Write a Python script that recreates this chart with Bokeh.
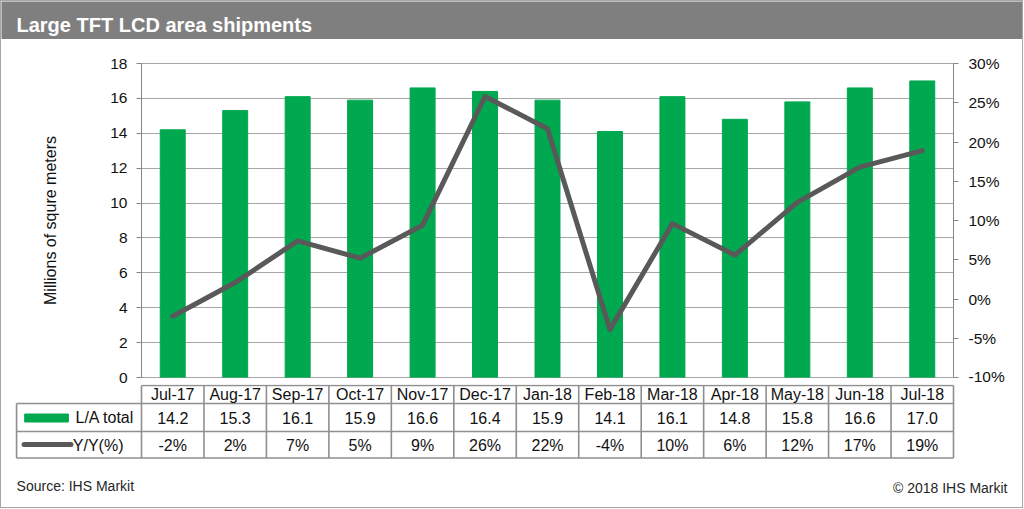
from bokeh.plotting import figure
from bokeh.models import Range1d, LinearAxis, SingleIntervalTicker, PrintfTickFormatter, FactorRange
from bokeh.layouts import column, row
from bokeh.core.properties import value
from bokeh.embed import file_html
from bokeh.resources import INLINE

# ---------------- data ----------------
months = ["Jul-17", "Aug-17", "Sep-17", "Oct-17", "Nov-17", "Dec-17", "Jan-18",
          "Feb-18", "Mar-18", "Apr-18", "May-18", "Jun-18", "Jul-18"]
area_msqm = [14.2, 15.3, 16.1, 15.9, 16.6, 16.4, 15.9, 14.1, 16.1, 14.8, 15.8, 16.6, 17.0]
yoy_pct = [-2.2, 2.1, 7.4, 5.2, 9.4, 25.8, 21.7, -3.9, 9.6, 5.6, 12.3, 16.8, 18.9]
title_text = "Large TFT LCD area shipments"
y_label = "Millions of squre meters"
series_names = ["L/A total", "Y/Y(%)"]
source_note = "Source: IHS Markit"
copyright_note = "\u00a9 2018 IHS Markit"

area_labels = [f"{v:.1f}" for v in area_msqm]
yoy_labels = [f"{round(v)}%" for v in yoy_pct]

# ---------------- style ----------------
FONT = "Liberation Sans"
W = 1021
GREEN = "#00a84f"
LINEC = "#595959"
GRID = "#a6a6a6"
AXIS = "#868686"
TXT = "#111111"
LEFT = 140
RIGHT = 69
COLW = (W - LEFT - RIGHT) / len(months)


def bare(fig):
    fig.grid.visible = False
    fig.outline_line_color = None
    fig.background_fill_color = "white"
    fig.border_fill_color = "white"
    return fig


# ---------------- title bar ----------------
HT = 38
t = figure(width=W, height=HT, x_range=Range1d(0, W), y_range=Range1d(HT, 0),
           toolbar_location=None, output_backend="svg", min_border=0,
           x_axis_location=None, y_axis_location=None)
bare(t)
t.background_fill_color = "#7f7f7f"
t.border_fill_color = "#7f7f7f"
t.text(x=[15], y=[23], text=[title_text], text_color="white", text_font=value(FONT),
       text_font_style="bold", text_font_size="20px", text_baseline="middle")

# ---------------- main chart ----------------
p = figure(width=W, height=345, x_range=FactorRange(factors=months, range_padding=0),
           y_range=Range1d(0, 18), toolbar_location=None, output_backend="svg",
           min_border_left=LEFT, min_border_right=RIGHT, min_border_top=24,
           min_border_bottom=7, x_axis_location=None, y_axis_label=y_label)
p.background_fill_color = "white"
p.border_fill_color = "white"
p.outline_line_color = GRID
p.xgrid.visible = False
p.yaxis.ticker = SingleIntervalTicker(interval=2, num_minor_ticks=0)
p.ygrid.grid_line_color = GRID
p.ygrid.grid_line_width = 1

p.vbar(x=months, top=area_msqm, width=0.4, color=GREEN, line_color=GREEN)

p.extra_y_ranges = {"yoy": Range1d(-10, 30)}
p.line(x=months, y=yoy_pct, y_range_name="yoy", line_color=LINEC, line_width=5,
       line_join="round", line_cap="round")

rax = LinearAxis(y_range_name="yoy",
                 ticker=SingleIntervalTicker(interval=5, num_minor_ticks=0),
                 formatter=PrintfTickFormatter(format="%d%%"))
p.add_layout(rax, "right")

for a in p.yaxis:
    a.axis_line_color = AXIS
    a.major_tick_line_color = AXIS
    a.minor_tick_line_color = None
    a.major_tick_out = 5
    a.major_tick_in = 0
    a.major_label_text_font = FONT
    a.major_label_text_font_size = "15.5px"
    a.major_label_text_color = TXT
p.yaxis[0].major_label_standoff = 9
rax.major_label_standoff = 10
p.yaxis[0].axis_label_text_font = FONT
p.yaxis[0].axis_label_text_font_size = "16px"
p.yaxis[0].axis_label_text_font_style = "normal"
p.yaxis[0].axis_label_text_color = TXT
p.yaxis[0].axis_label_standoff = 48

# ---------------- data table + footer ----------------
H3 = 123
tb = figure(width=W, height=H3, x_range=Range1d(-LEFT / COLW, (W - LEFT) / COLW),
            y_range=Range1d(H3, 0), toolbar_location=None, output_backend="svg",
            min_border=0, x_axis_location=None, y_axis_location=None)
bare(tb)

n = len(months)
row_y = [1, 19, 47, 73.5]
CELL = "#8f8f8f"
tb.segment(x0=[0, -2, -2, -2], y0=row_y, x1=[n] * 4, y1=row_y,
           line_color=CELL, line_width=1.6)
tb.segment(x0=list(range(n + 1)), y0=[row_y[0]] * (n + 1), x1=list(range(n + 1)),
           y1=[row_y[3]] * (n + 1), line_color=CELL, line_width=1.6)
tb.segment(x0=[-2], y0=[row_y[1]], x1=[-2], y1=[row_y[3]], line_color=CELL, line_width=1.6)

centers = [i + 0.5 for i in range(n)]
common = dict(text_font=value(FONT), text_font_size="16px", text_color=TXT,
              text_baseline="middle")
tb.text(x=centers, y=[10] * n, text=months, text_align="center", **common)
tb.text(x=centers, y=[33] * n, text=area_labels, text_align="center", **common)
tb.text(x=centers, y=[60.5] * n, text=yoy_labels, text_align="center", **common)

# legend cells
tb.rect(x=[-1.52], y=[33.5], width=0.70, height=8, color=GREEN)
tb.segment(x0=[-1.88], y0=[60], x1=[-1.13], y1=[60], line_color=LINEC, line_width=5,
           line_cap="round")
tb.text(x=[-1.057], y=[33], text=[series_names[0]], text_align="left", **common)
tb.text(x=[-1.10], y=[60.5], text=[series_names[1]], text_align="left", **common)

# footer
foot = dict(text_font=value(FONT), text_font_size="14px", text_color="#262626",
            text_baseline="middle")
tb.text(x=[-2.0], y=[101], text=[source_note], text_align="left", **foot)
tb.text(x=[(W - 15 - LEFT) / COLW], y=[103], text=[copyright_note], text_align="right", **foot)

layout = column(row(t), row(p), row(tb), styles={"border": "1px solid #a6a6a6"})

open("out.html", "w").write(file_html(layout, INLINE))
